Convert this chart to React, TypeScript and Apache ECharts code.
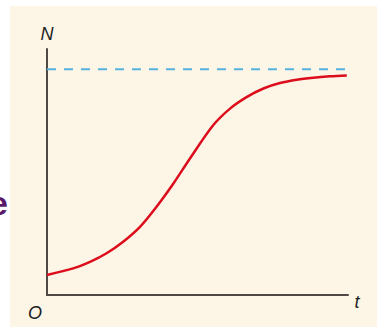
import React, { useEffect, useRef } from "react";
import * as echarts from "echarts";

// Time points and population size
const tValues = [0, 0.87, 1.43, 1.98, 2.53, 3.09, 3.64, 4.2, 4.75, 5.52, 6.08, 6.63, 7.19, 7.74, 8.3, 8.85, 9.4, 9.96];
const nValues = [8.9, 11.8, 14.7, 18.5, 23.6, 30.2, 39.1, 49.4, 60.5, 75.2, 82.6, 87.7, 91.5, 93.9, 95.4, 96.3, 96.9, 97.3];

// Carrying capacity K (dashed asymptote)
const capacity = 100;
const tRange = [0, 10];
const nRange = [0, 109];

// Axis labels
const yAxisName = "N";
const xAxisName = "t";
const originLabel = "O";

export default function App() {
  const ref = useRef<HTMLDivElement>(null);

  useEffect(() => {
    if (!ref.current) return;
    const chart = echarts.init(ref.current, null, { renderer: "svg" });
    const curve = tValues.map((t, i) => [t, nValues[i]]);
    const kLine = [
      [tRange[0], capacity],
      [tRange[1], capacity],
    ];
    const labelFont = "Liberation Sans, Arial, sans-serif";
    chart.setOption({
      animation: false,
      backgroundColor: "#ffffff",
      grid: { left: 47, top: 49, right: 29, bottom: 32 },
      xAxis: {
        type: "value",
        min: tRange[0],
        max: tRange[1],
        axisLine: { show: true, lineStyle: { color: "#4e4943", width: 2 } },
        axisTick: { show: false },
        axisLabel: { show: false },
        splitLine: { show: false },
      },
      yAxis: {
        type: "value",
        min: nRange[0],
        max: nRange[1],
        axisLine: { show: true, lineStyle: { color: "#4e4943", width: 2 } },
        axisTick: { show: false },
        axisLabel: { show: false },
        splitLine: { show: false },
      },
      graphic: [
        {
          type: "rect",
          z: -10,
          silent: true,
          shape: { x: 10, y: 6, width: 367, height: 321 },
          style: { fill: "#fdf5e5" },
        },
        {
          type: "text",
          x: 8,
          y: 203,
          style: {
            text: "e",
            font: "bold 34px Liberation Sans, Arial, sans-serif",
            fill: "#5a1a6c",
            align: "right",
            verticalAlign: "middle",
          },
        },
        {
          type: "text",
          x: 47,
          y: 34,
          style: {
            text: yAxisName,
            font: "italic 18px " + labelFont,
            fill: "#1e1e1e",
            align: "center",
            verticalAlign: "middle",
          },
        },
        {
          type: "text",
          x: 35,
          y: 313,
          style: {
            text: originLabel,
            font: "italic 18px " + labelFont,
            fill: "#1e1e1e",
            align: "center",
            verticalAlign: "middle",
          },
        },
        {
          type: "text",
          x: 357,
          y: 302,
          style: {
            text: xAxisName,
            font: "italic 18px " + labelFont,
            fill: "#1e1e1e",
            align: "center",
            verticalAlign: "middle",
          },
        },
      ],
      series: [
        {
          type: "line",
          data: kLine,
          symbol: "none",
          lineStyle: { color: "#55b2df", width: 2, type: [9, 8] },
          z: 2,
        },
        {
          type: "line",
          data: curve,
          smooth: 0.3,
          symbol: "none",
          lineStyle: { color: "#dc0d1c", width: 2.5 },
          z: 3,
        },
      ],
    });
    return () => chart.dispose();
  }, []);

  return (
    <div
      ref={ref}
      style={{ position: "fixed", left: 0, top: 0, width: 377, height: 327 }}
    />
  );
}
